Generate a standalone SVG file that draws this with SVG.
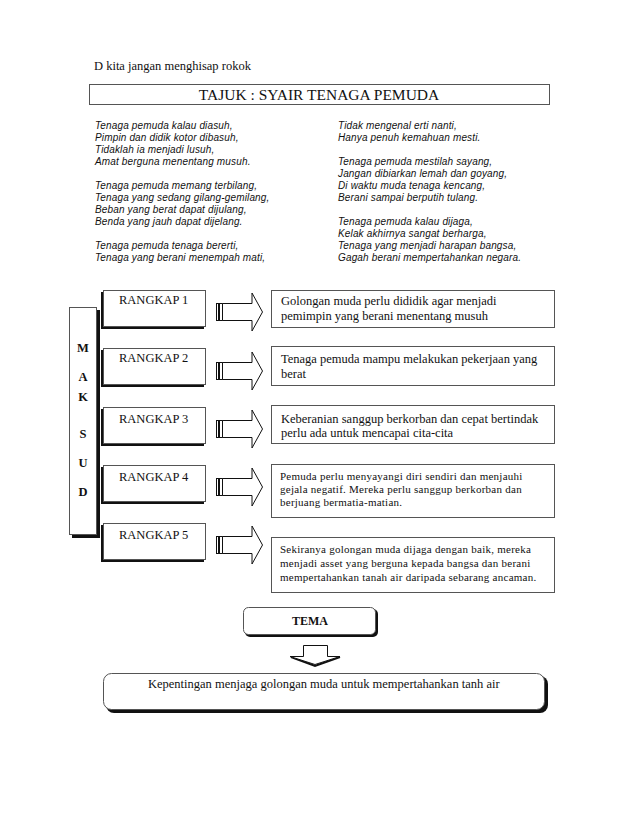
<svg xmlns="http://www.w3.org/2000/svg" width="638" height="826" viewBox="0 0 638 826">
<style>
.serif{font-family:"Liberation Serif","Times New Roman",serif;fill:#111}
.poem{font-family:"Liberation Sans",Arial,sans-serif;font-style:italic;font-size:10px;letter-spacing:0.15px;fill:#111}
.box{fill:#fff;stroke:#555;stroke-width:1}
.shadow{fill:#111}
.arr{fill:#fff;stroke:#111;stroke-width:1}
.t12{font-size:12.5px}
.t11{font-size:11px;letter-spacing:0.25px}
.b{font-weight:bold}
</style>
<rect width="638" height="826" fill="#fff"/>

<g id="header">
<text class="serif" x="94" y="70" font-size="12.5">D kita jangan menghisap rokok</text>
</g>
<g id="tajuk">
<rect class="box" x="89.5" y="84.5" width="460" height="20"/>
<text class="serif" x="319" y="100" font-size="15.5" text-anchor="middle">TAJUK : SYAIR TENAGA PEMUDA</text>
</g>

<g id="poem">
<text class="poem" x="95" y="129">Tenaga pemuda kalau diasuh,</text>
<text class="poem" x="95" y="141">Pimpin dan didik kotor dibasuh,</text>
<text class="poem" x="95" y="153">Tidaklah ia menjadi lusuh,</text>
<text class="poem" x="95" y="165">Amat berguna menentang musuh.</text>
<text class="poem" x="95" y="189">Tenaga pemuda memang terbilang,</text>
<text class="poem" x="95" y="201">Tenaga yang sedang gilang-gemilang,</text>
<text class="poem" x="95" y="213">Beban yang berat dapat dijulang,</text>
<text class="poem" x="95" y="225">Benda yang jauh dapat dijelang.</text>
<text class="poem" x="95" y="249">Tenaga pemuda tenaga bererti,</text>
<text class="poem" x="95" y="261">Tenaga yang berani menempah mati,</text>
<text class="poem" x="338" y="129">Tidak mengenal erti nanti,</text>
<text class="poem" x="338" y="141">Hanya penuh kemahuan mesti.</text>
<text class="poem" x="338" y="165">Tenaga pemuda mestilah sayang,</text>
<text class="poem" x="338" y="177">Jangan dibiarkan lemah dan goyang,</text>
<text class="poem" x="338" y="189">Di waktu muda tenaga kencang,</text>
<text class="poem" x="338" y="201">Berani sampai berputih tulang.</text>
<text class="poem" x="338" y="225">Tenaga pemuda kalau dijaga,</text>
<text class="poem" x="338" y="237">Kelak akhirnya sangat berharga,</text>
<text class="poem" x="338" y="249">Tenaga yang menjadi harapan bangsa,</text>
<text class="poem" x="338" y="261">Gagah berani mempertahankan negara.</text>
</g>

<g id="maksud">
<rect class="shadow" x="72" y="310" width="28" height="228"/>
<rect class="box" x="69.5" y="307.5" width="27" height="227"/>
<g class="serif t12 b" text-anchor="middle">
<text x="83" y="352">M</text>
<text x="83" y="381">A</text>
<text x="83" y="401">K</text>
<text x="83" y="438">S</text>
<text x="83" y="467">U</text>
<text x="83" y="496">D</text>
</g>
</g>

<g id="rangkap1">
<rect class="shadow" x="101" y="292" width="103" height="37"/>
<rect class="box" x="103.5" y="290.5" width="102" height="36"/>
<text class="serif t12" x="119" y="304">RANGKAP 1</text>
</g>
<g id="rangkap2">
<rect class="shadow" x="101" y="350" width="103" height="37"/>
<rect class="box" x="103.5" y="348.5" width="102" height="36"/>
<text class="serif t12" x="119" y="362">RANGKAP 2</text>
</g>
<g id="rangkap3">
<rect class="shadow" x="101" y="409" width="103" height="37"/>
<rect class="box" x="103.5" y="407.5" width="102" height="36"/>
<text class="serif t12" x="119" y="423">RANGKAP 3</text>
</g>
<g id="rangkap4">
<rect class="shadow" x="101" y="467" width="103" height="37"/>
<rect class="box" x="103.5" y="465.5" width="102" height="36"/>
<text class="serif t12" x="119" y="481">RANGKAP 4</text>
</g>
<g id="rangkap5">
<rect class="shadow" x="101" y="525" width="103" height="37"/>
<rect class="box" x="103.5" y="523.5" width="102" height="36"/>
<text class="serif t12" x="119" y="539">RANGKAP 5</text>
</g>

<g id="maksud1">
<rect class="box" x="271.5" y="290.5" width="283" height="37"/>
<text class="serif t12" x="281" y="305">Golongan muda perlu dididik agar menjadi</text>
<text class="serif t12" x="281" y="320">pemimpin yang berani menentang musuh</text>
</g>
<g id="maksud2">
<rect class="box" x="271.5" y="346.5" width="283" height="39"/>
<text class="serif t12" x="281" y="363">Tenaga pemuda mampu melakukan pekerjaan yang</text>
<text class="serif t12" x="281" y="378">berat</text>
</g>
<g id="maksud3">
<rect class="box" x="271.5" y="405.5" width="283" height="38"/>
<text class="serif t12" x="281" y="423">Keberanian sanggup berkorban dan cepat bertindak</text>
<text class="serif t12" x="281" y="437">perlu ada untuk mencapai cita-cita</text>
</g>
<g id="maksud4">
<rect class="box" x="271.5" y="464.5" width="283" height="53"/>
<text class="serif t11" x="280" y="480">Pemuda perlu menyayangi diri sendiri dan menjauhi</text>
<text class="serif t11" x="280" y="493">gejala negatif. Mereka perlu sanggup berkorban dan</text>
<text class="serif t11" x="280" y="506">berjuang bermatia-matian.</text>
</g>
<g id="maksud5">
<rect class="box" x="271.5" y="537.5" width="283" height="55"/>
<text class="serif t11" x="280" y="553">Sekiranya golongan muda dijaga dengan baik, mereka</text>
<text class="serif t11" x="280" y="567">menjadi asset yang berguna kepada bangsa dan berani</text>
<text class="serif t11" x="280" y="581">mempertahankan tanah air daripada sebarang ancaman.</text>
</g>

<g id="tema">
<rect class="shadow" x="245" y="609" width="133" height="28" rx="5"/>
<rect class="box" x="243.5" y="607.5" width="132" height="27" rx="5" stroke="#333"/>
<text class="serif b" x="310" y="625" font-size="12" text-anchor="middle">TEMA</text>
</g>

<g id="kesimpulan">
<rect class="shadow" x="106" y="676" width="442" height="37" rx="8"/>
<rect class="box" x="103.5" y="673.5" width="441" height="36" rx="8" stroke="#333"/>
<text class="serif t12" x="148" y="688">Kepentingan menjaga golongan muda untuk mempertahankan tanh air</text>
</g>

<g id="connectors">
<defs>
<g id="sarrow">
<rect class="arr" x="216.5" y="-8.5" width="2" height="17"/>
<rect class="arr" x="219.5" y="-8.5" width="3" height="17"/>
<path class="arr" d="M222.5,-8.5 H252 V-19 L262.5,0 L252,19 V8.5 H222.5 Z"/>
</g>
</defs>
<use href="#sarrow" transform="translate(0,312)"/>
<use href="#sarrow" transform="translate(0,371)"/>
<use href="#sarrow" transform="translate(0,429)"/>
<use href="#sarrow" transform="translate(0,487)"/>
<use href="#sarrow" transform="translate(0,545)"/>
<path d="M291,657 L315,666 L340,657" fill="none" stroke="#111" stroke-width="2"/>
<path class="arr" d="M303.5,645.5 H327.5 V656.5 H340 L315,664.5 L290,656.5 H303.5 Z"/>
</g>
</svg>
